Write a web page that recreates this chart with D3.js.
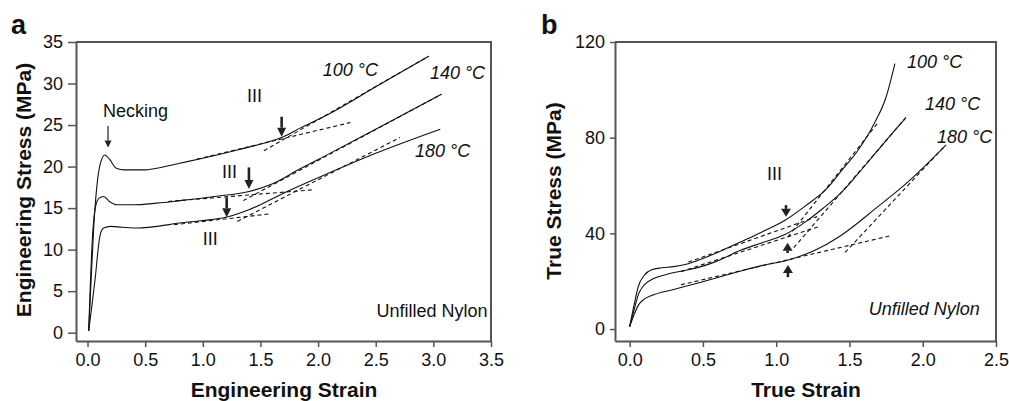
<!DOCTYPE html>
<html>
<head>
<meta charset="utf-8">
<script src="https://cdn.jsdelivr.net/npm/d3@7"></script>
<style>
  body { margin: 0; background: #fff; }
  text { font-family: "Liberation Sans", Arial, sans-serif; fill: #111; }
</style>
</head>
<body>
<svg id="chart" width="1009" height="401"></svg>
<script>
// ---- panel a : engineering stress / strain (MPa) ----
var eng100 = [[0.01,0.2],[0.03,6],[0.055,13],[0.08,17.5],[0.11,20.3],[0.15,21.4],[0.19,20.9],[0.25,19.8],
              [0.32,19.6],[0.48,19.6],[0.6,19.8],[0.8,20.4],[1.0,21.0],[1.3,22.0],[1.55,22.9],[1.7,23.6],
              [1.84,24.6],[2.09,26.3],[2.5,29.6],[2.96,33.3]];
var eng140 = [[0.01,0.2],[0.025,6],[0.045,12],[0.07,15.2],[0.1,16.2],[0.14,16.4],[0.19,15.8],[0.26,15.4],
              [0.4,15.4],[0.6,15.6],[0.8,15.9],[1.1,16.4],[1.4,17.0],[1.6,17.9],[1.84,19.7],[2.09,21.5],
              [2.5,24.5],[3.07,28.7]];
var eng180 = [[0.01,0.2],[0.04,3.5],[0.07,7],[0.09,9.8],[0.11,11.8],[0.14,12.6],[0.2,12.8],[0.3,12.7],
              [0.45,12.6],[0.6,12.8],[0.8,13.2],[1.0,13.5],[1.2,13.9],[1.4,14.8],[1.7,16.8],[2.09,19.2],
              [2.5,21.6],[3.06,24.5]];
var engFits = [
  [[0.95,20.9],[2.28,25.3]], [[1.53,21.9],[2.96,33.3]],
  [[0.7,15.8],[1.95,17.2]],  [[1.35,15.9],[3.07,28.7]],
  [[0.75,13.0],[1.58,14.3]], [[1.3,13.4],[2.71,23.5]]
];
var engXTicks = [0, 0.5, 1.0, 1.5, 2.0, 2.5, 3.0, 3.5];
var engYTicks = [0, 5, 10, 15, 20, 25, 30, 35];

// ---- panel b : true stress / strain (MPa) ----
var true100 = [[0,1],[0.03,10],[0.06,18],[0.1,22.5],[0.15,24.8],[0.22,25.6],[0.3,26.1],[0.4,27.3],
               [0.5,29.5],[0.6,32],[0.76,36.5],[0.9,40.5],[1.06,45.5],[1.2,51.5],[1.35,59],[1.45,66.5],
               [1.55,74],[1.67,86],[1.75,97],[1.81,111]];
var true140 = [[0,1],[0.03,8],[0.06,14.5],[0.1,18.5],[0.15,20.7],[0.25,22.8],[0.4,24.8],[0.5,26.3],
               [0.6,28.5],[0.76,33],[0.9,36],[1.06,39.5],[1.2,44.8],[1.32,50.5],[1.44,56.8],[1.55,64.3],
               [1.67,73],[1.78,81],[1.88,88]];
var true180 = [[0,1],[0.03,6],[0.06,10],[0.1,12.5],[0.15,14],[0.3,16.5],[0.5,19.8],[0.76,24.3],
               [0.9,26.5],[1.09,29],[1.25,32.5],[1.44,39],[1.55,44],[1.67,50],[1.89,61],[2.16,77]];
var trueFits = [
  [[0.4,28.0],[1.28,47.0]], [[1.08,38.5],[1.70,86.7]],
  [[0.35,24.0],[1.3,43.0]], [[1.12,34.0],[1.9,89.5]],
  [[0.35,18.5],[1.78,39.0]], [[1.47,32.0],[2.15,76.5]]
];
var trueXTicks = [0, 0.5, 1.0, 1.5, 2.0, 2.5];
var trueYTicks = [0, 40, 80, 120];

// annotations: [x, y] in data units
var engArrows = [ // thick: tail -> tip
  [[1.684,26.0],[1.684,23.6]], [[1.40,19.9],[1.40,17.3]], [[1.207,16.3],[1.207,13.9]]
];
var engLabels = [
  ["100 °C", 2.04, 30.9, true], ["140 °C", 2.97, 30.6, true], ["180 °C", 2.84, 21.1, true],
  ["III", 1.383, 27.8, false], ["III", 1.166, 18.65, false], ["III", 1.0, 10.6, false],
  ["Necking", 0.135, 26.0, false]
];
var trueArrows = [
  [[1.067,51.8],[1.067,46.9]], [[1.078,31.8],[1.078,36.1]], [[1.08,21.7],[1.08,26.8]]
];
var trueLabels = [
  ["100 °C", 1.893, 109.1, true], ["140 °C", 2.016, 91.6, true], ["180 °C", 2.098, 77.8, true],
  ["III", 0.937, 62.3, false]
];

var svg = d3.select('#chart');
var axisColor = '#555';

function drawArrow(g, x1, y1, x2, y2, shaft, headLen, headW) {
  var dx = x2 - x1, dy = y2 - y1, len = Math.sqrt(dx*dx + dy*dy);
  var ux = dx / len, uy = dy / len;
  var bx = x2 - ux * headLen, by = y2 - uy * headLen;
  g.append('line')
    .attr('x1', x1).attr('y1', y1).attr('x2', bx).attr('y2', by)
    .attr('stroke', '#222').attr('stroke-width', shaft);
  g.append('path')
    .attr('d', 'M' + x2 + ',' + y2 +
               'L' + (bx - uy*headW) + ',' + (by + ux*headW) +
               'L' + (bx + uy*headW) + ',' + (by - ux*headW) + 'Z')
    .attr('fill', '#222');
}

function drawPanel(p) {
  var x = d3.scaleLinear().domain(p.xDomain).range(p.xRange);
  var y = d3.scaleLinear().domain(p.yDomain).range(p.yRange);
  var g = svg.append('g');

  var xAxis = g.append('g')
    .attr('transform', 'translate(0,' + p.yRange[0] + ')')
    .call(d3.axisBottom(x).tickValues(p.xTicks).tickFormat(d3.format('.1f'))
            .tickSize(6).tickSizeOuter(0).tickPadding(6));
  var yAxis = g.append('g')
    .attr('transform', 'translate(' + p.xRange[0] + ',0)')
    .call(d3.axisLeft(y).tickValues(p.yTicks).tickSize(p.yTickSize).tickSizeOuter(0).tickPadding(5));
  [xAxis, yAxis].forEach(function(a) {
    a.select('.domain').attr('stroke', axisColor).attr('stroke-width', 2);
    a.selectAll('.tick line').attr('stroke', axisColor).attr('stroke-width', 1.5);
    a.selectAll('.tick text').style('font-size', '18px').attr('fill', '#111')
      .style('font-family', '"Liberation Sans", Arial, sans-serif');
  });
  // frame top + right
  g.append('path')
    .attr('d', 'M' + p.xRange[0] + ',' + p.yRange[1] + 'H' + p.xRange[1] + 'V' + p.yRange[0])
    .attr('fill', 'none').attr('stroke', axisColor).attr('stroke-width', 2);

  var line = d3.line().x(function(d) { return x(d[0]); }).y(function(d) { return y(d[1]); })
               .curve(d3.curveMonotoneX);

  g.selectAll('.fit').data(p.fits).enter().append('path')
    .attr('d', d3.line().x(function(d) { return x(d[0]); }).y(function(d) { return y(d[1]); }))
    .attr('fill', 'none').attr('stroke', '#111').attr('stroke-width', 1.1)
    .attr('stroke-dasharray', '4,3');

  g.selectAll('.curve').data(p.curves).enter().append('path')
    .attr('d', line)
    .attr('fill', 'none').attr('stroke', '#111').attr('stroke-width', 1.1);

  p.arrows.forEach(function(a) {
    drawArrow(g, x(a[0][0]), y(a[0][1]), x(a[1][0]), y(a[1][1]), p.arrowShaft, p.arrowHead, p.arrowW);
  });

  p.labels.forEach(function(l) {
    g.append('text').attr('x', x(l[1])).attr('y', y(l[2]))
      .style('font-size', '18px').style('font-style', l[3] ? 'italic' : 'normal')
      .text(l[0]);
  });

  g.append('text').attr('x', x(p.note[1])).attr('y', y(p.note[2]))
    .attr('text-anchor', 'end').style('font-size', '18px')
    .style('font-style', p.note[3] ? 'italic' : 'normal').text(p.note[0]);

  // axis titles
  g.append('text')
    .attr('x', p.xTitlePos[0]).attr('y', p.xTitlePos[1])
    .attr('text-anchor', 'middle').style('font-size', '21px').style('font-weight', 'bold')
    .text(p.xTitle);
  g.append('text')
    .attr('transform', 'translate(' + p.yTitlePos[0] + ',' + p.yTitlePos[1] + ') rotate(-90)')
    .attr('text-anchor', 'middle').style('font-size', '21px').style('font-weight', 'bold')
    .text(p.yTitle);
  g.append('text')
    .attr('x', p.letterPos[0]).attr('y', p.letterPos[1])
    .style('font-size', '27px').style('font-weight', 'bold')
    .text(p.letter);
  return { x: x, y: y, g: g };
}

var pa = drawPanel({
  xDomain: [-0.1, 3.5], xRange: [76, 491], yDomain: [-1, 35], yRange: [341, 42],
  xTicks: engXTicks, yTicks: engYTicks, yTickSize: 8,
  curves: [eng100, eng140, eng180], fits: engFits,
  arrows: engArrows, arrowShaft: 2.6, arrowHead: 9, arrowW: 4.5,
  labels: engLabels, note: ["Unfilled Nylon", 3.47, 1.9, false],
  xTitle: "Engineering Strain", xTitlePos: [284, 397],
  yTitle: "Engineering Stress (MPa)", yTitlePos: [31, 190],
  letter: "a", letterPos: [11, 34]
});
// thin necking arrow
drawArrow(pa.g, pa.x(0.178), pa.y(24.9), pa.x(0.178), pa.y(22.3), 1.2, 7, 3.5);

drawPanel({
  xDomain: [-0.1, 2.5], xRange: [615, 996], yDomain: [-5, 120], yRange: [341, 42],
  xTicks: trueXTicks, yTicks: trueYTicks, yTickSize: 5,
  curves: [true100, true140, true180], fits: trueFits,
  arrows: trueArrows, arrowShaft: 2.6, arrowHead: 8, arrowW: 5,
  labels: trueLabels, note: ["Unfilled Nylon", 2.39, 5.85, true],
  xTitle: "True Strain", xTitlePos: [806, 397],
  yTitle: "True Stress (MPa)", yTitlePos: [561, 191],
  letter: "b", letterPos: [541, 34]
});
</script>
</body>
</html>
